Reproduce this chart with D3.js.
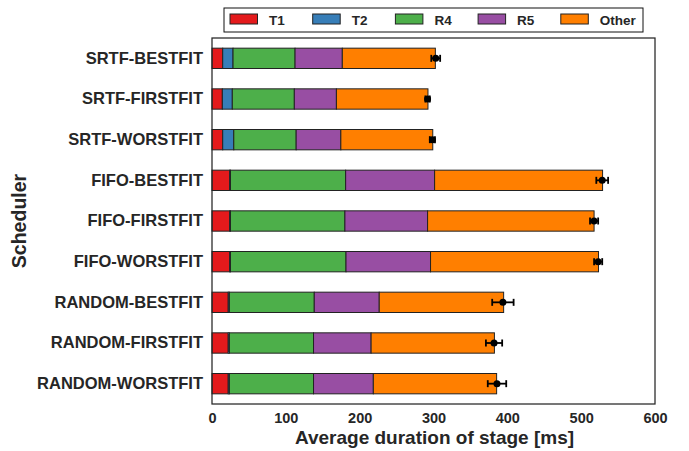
<!DOCTYPE html>
<html><head><meta charset="utf-8">
<script src="https://cdn.jsdelivr.net/npm/d3@7"></script>
<style>body{margin:0;background:#fff}svg{display:block}text{font-family:"Liberation Sans",Arial,sans-serif;font-weight:bold;fill:#262626}</style>
</head><body><svg id="c" width="689" height="451"></svg>
<script>
const categories = ["SRTF-BESTFIT","SRTF-FIRSTFIT","SRTF-WORSTFIT","FIFO-BESTFIT","FIFO-FIRSTFIT","FIFO-WORSTFIT","RANDOM-BESTFIT","RANDOM-FIRSTFIT","RANDOM-WORSTFIT"];
const seriesNames = ["T1","T2","R4","R5","Other"];
const T1 = [14.5,14,14.5,24,24,24,22,22,22];
const T2 = [14,13.5,15,1,1,1,1.5,1.5,1.5];
const R4 = [84,84,84.5,156,155,156.5,115,114,114];
const R5 = [64,57,60.5,120.5,112,114.5,88,78,81];
const Other = [126,124,124.5,227.5,225.5,227.5,168.5,167,167];
const errMean = [303,292,298.5,528.5,517.5,523,394,382,386];
const errSize = [6,3,3.5,8,5.5,5.5,14.5,11,12.5];
const xTicks = [0,100,200,300,400,500,600];
const colors = ["#e41a1c","#377eb8","#4daf4a","#984ea3","#ff7f00"];

const svg = d3.select("#c");
const m = {l:212, r:655, t:38, b:404};
const x = d3.scaleLinear().domain([0,600]).range([m.l, m.r]);
const y = d3.scaleBand().domain(categories).range([m.t, m.b]).paddingInner(0.5).paddingOuter(0.25);
const seriesData = [T1,T2,R4,R5,Other];
const rows = categories.map((c,i)=>{const o={cat:c}; seriesNames.forEach((s,j)=>o[s]=seriesData[j][i]); return o;});
const stack = d3.stack().keys(seriesNames)(rows);

const g = svg.append("g");
stack.forEach((layer,j)=>{
  g.selectAll(null).data(layer).join("rect")
   .attr("x", d=>x(d[0])).attr("y", d=>y(d.data.cat))
   .attr("width", d=>x(d[1])-x(d[0])).attr("height", y.bandwidth())
   .attr("fill", colors[j]).attr("stroke","#222").attr("stroke-width",1);
});
// error bars
const eb = svg.append("g");
categories.forEach((c,i)=>{
  const cy = y(c)+y.bandwidth()/2;
  const x0 = x(errMean[i]-errSize[i]), x1 = x(errMean[i]+errSize[i]);
  eb.append("line").attr("x1",x0).attr("x2",x1).attr("y1",cy).attr("y2",cy).attr("stroke","#000").attr("stroke-width",1.8);
  [x0,x1].forEach(xx=>eb.append("line").attr("x1",xx).attr("x2",xx).attr("y1",cy-3.5).attr("y2",cy+3.5).attr("stroke","#000").attr("stroke-width",1.8));
  eb.append("circle").attr("cx",x(errMean[i])).attr("cy",cy).attr("r",3.5).attr("fill","#000");
});
// frame
svg.append("rect").attr("x",m.l).attr("y",m.t).attr("width",m.r-m.l).attr("height",m.b-m.t).attr("fill","none").attr("stroke","#262626").attr("stroke-width",1.25);
// axes
const xa = svg.append("g").attr("transform",`translate(0,${m.b})`).call(d3.axisBottom(x).tickValues(xTicks).tickSize(0).tickPadding(9));
xa.select(".domain").remove();
xa.selectAll("text").style("font-size","14.5px").attr("fill","#262626");
const ya = svg.append("g").attr("transform",`translate(${m.l},0)`).call(d3.axisLeft(y).tickSize(0).tickPadding(9));
ya.select(".domain").remove();
ya.selectAll("text").style("font-size","16.5px").attr("fill","#262626");
svg.append("text").attr("x",(m.l+m.r)/2+1).attr("y",444).attr("text-anchor","middle").style("font-size","19px").text("Average duration of stage [ms]");
svg.append("text").attr("transform",`translate(26,${(m.t+m.b)/2}) rotate(-90)`).attr("text-anchor","middle").style("font-size","19.5px").text("Scheduler");
// legend
const lg = svg.append("g");
lg.append("rect").attr("x",224).attr("y",8).attr("width",419).attr("height",24).attr("fill","#fff").attr("stroke","#111").attr("stroke-width",1);
seriesNames.forEach((s,j)=>{
  const lx = 230 + j*82.7;
  lg.append("rect").attr("x",lx).attr("y",14).attr("width",27.5).attr("height",10).attr("fill",colors[j]).attr("stroke","#222").attr("stroke-width",1);
  lg.append("text").attr("x",lx+39).attr("y",24.5).style("font-size","13.5px").text(s);
});
</script></body></html>
